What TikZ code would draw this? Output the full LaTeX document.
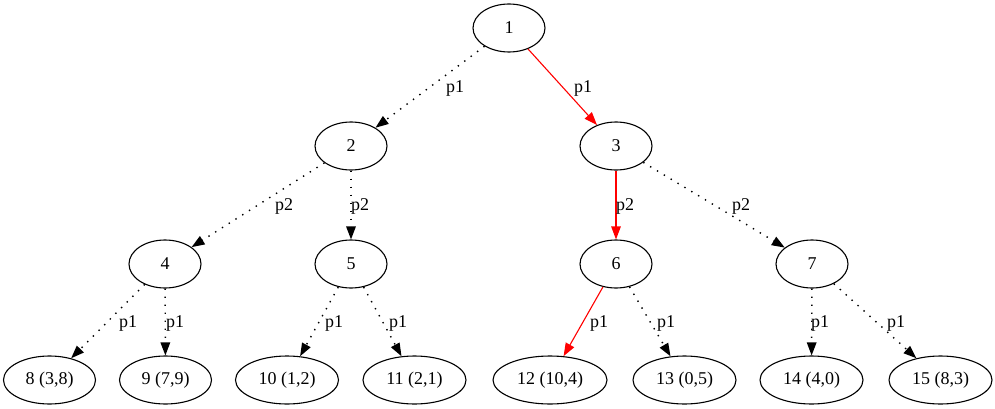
\documentclass[tikz,border=0pt]{standalone}
\usepackage{fontspec}
\setmainfont{Liberation Serif}
\usetikzlibrary{arrows.meta,shapes.geometric}
\begin{document}
\begin{tikzpicture}[x=1pt,y=-1pt,
  font=\fontsize{18}{20}\selectfont,
  vtx/.style={draw,ellipse,line width=1.1pt,inner sep=0pt,minimum height=48pt,minimum width=#1},
  vtx/.default=72pt,
  edg/.style={line width=1.1pt,-{Triangle[length=13pt,width=9.5pt]}},
  dotl/.style={edg,line width=1.4pt,dash pattern=on 1.4pt off 6.6pt},
  redl/.style={edg,red},
  lbl/.style={anchor=base,inner sep=0pt}]
\useasboundingbox (0,0) rectangle (995,409);
% nodes
\node[vtx] (n1) at (509,28) {1};
\node[vtx] (n2) at (351,146) {2};
\node[vtx] (n3) at (616,146) {3};
\node[vtx] (n4) at (165,264) {4};
\node[vtx] (n5) at (351,264) {5};
\node[vtx] (n6) at (616,264) {6};
\node[vtx] (n7) at (812,264) {7};
\node[vtx=92pt] (n8) at (49.5,380) {8 (3,8)};
\node[vtx=92pt] (n9) at (165.5,380) {9 (7,9)};
\node[vtx=103pt] (n10) at (287,380) {10 (1,2)};
\node[vtx=103pt] (n11) at (414.5,380) {11 (2,1)};
\node[vtx=114pt] (n12) at (550,380) {12 (10,4)};
\node[vtx=103pt] (n13) at (684.5,380) {13 (0,5)};
\node[vtx=103pt] (n14) at (811.5,380) {14 (4,0)};
\node[vtx=103pt] (n15) at (940.5,380) {15 (8,3)};
% edges
\draw[dotl] (n1) -- (n2);
\draw[redl] (n1) -- (n3);
\draw[dotl] (n2) -- (n4);
\draw[dotl] (n2) -- (n5);
\draw[redl] (n3) -- (n6);
\draw[dotl] (n3) -- (n7);
\draw[dotl] (n4) -- (n8);
\draw[dotl] (n4) -- (n9);
\draw[dotl] (n5) -- (n10);
\draw[dotl] (n5) -- (n11);
\draw[redl] (n6) -- (n12);
\draw[dotl] (n6) -- (n13);
\draw[dotl] (n7) -- (n14);
\draw[dotl] (n7) -- (n15);
% labels
\node[lbl] (l12) at (455,93) {p1};
\node[lbl] (l13) at (583,93) {p1};
\node[lbl] (l24) at (284,210) {p2};
\node[lbl] (l25) at (360,210) {p2};
\node[lbl] (l36) at (625,210) {p2};
\node[lbl] (l37) at (741,210) {p2};
\node[lbl] (l48) at (128,327) {p1};
\node[lbl] (l49) at (175,327) {p1};
\node[lbl] (l510) at (334,327) {p1};
\node[lbl] (l511) at (398,327) {p1};
\node[lbl] (l612) at (599,327) {p1};
\node[lbl] (l613) at (666,327) {p1};
\node[lbl] (l714) at (820,327) {p1};
\node[lbl] (l715) at (896,327) {p1};
\end{tikzpicture}
\end{document}
